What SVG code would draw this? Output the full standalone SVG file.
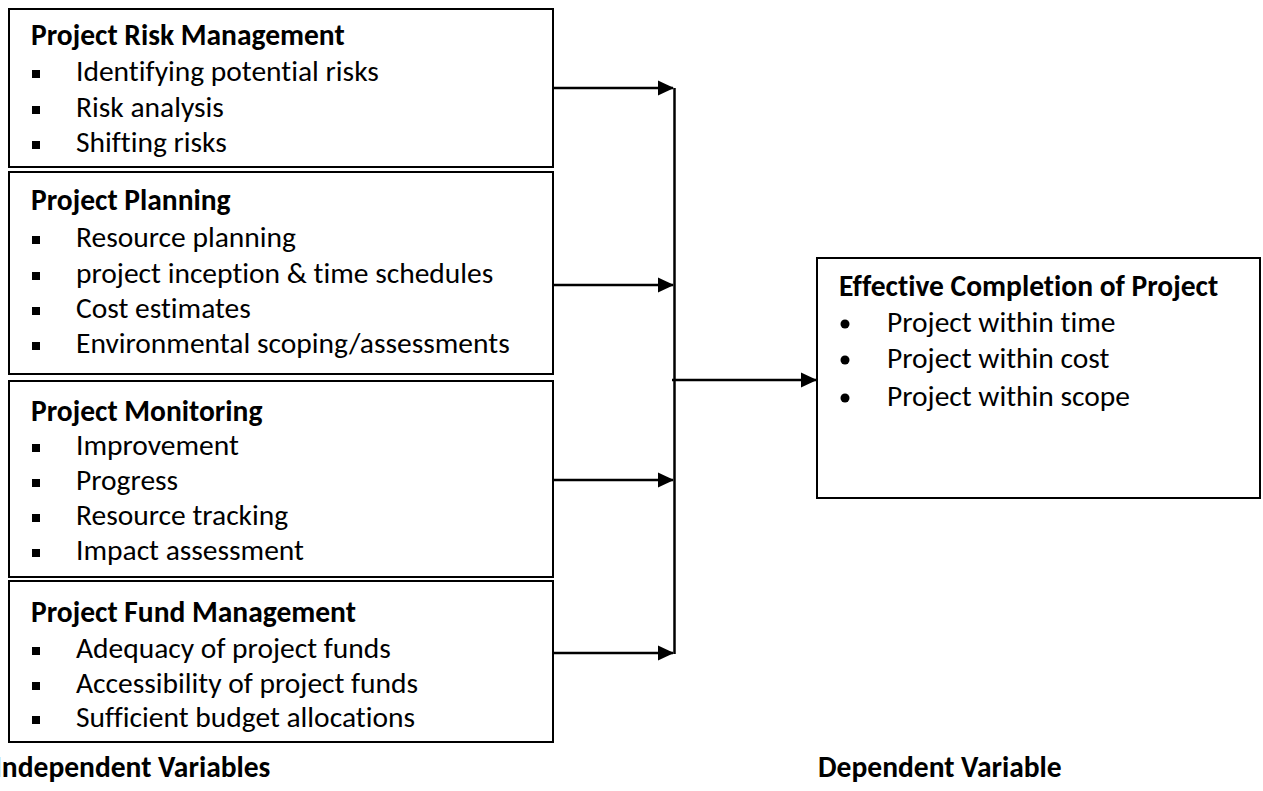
<svg xmlns="http://www.w3.org/2000/svg" width="1263" height="791" viewBox="0 0 1263 791">
<style>
text{font-family:Carlito,Lato,"Liberation Sans",sans-serif;font-size:29.5px;fill:#000;font-variant-ligatures:none;font-feature-settings:"liga" 0,"clig" 0}
.t{font-weight:bold}
.box{fill:#fff;stroke:#000;stroke-width:2}
.sq{fill:#000}
.ln{stroke:#000;stroke-width:2.5;fill:none}
</style>
<defs>
<marker id="ah" viewBox="0 0 16 16" refX="15" refY="8" markerWidth="16" markerHeight="16" markerUnits="userSpaceOnUse" orient="auto">
<path d="M0,0.5 L16,8 L0,15.5 Z" fill="#000"/>
</marker>
<clipPath id="c1"><rect x="0" y="0" width="560" height="157"/></clipPath>
</defs>
<rect width="1263" height="791" fill="#fff"/>

<g id="risk">
<rect class="box" x="9" y="9" width="544" height="158"/>
<g clip-path="url(#c1)">
<text class="t" x="31" y="45">Project Risk Management</text>
<rect class="sq" x="32" y="70" width="8" height="8"/><text x="76" y="81">Identifying potential risks</text>
<rect class="sq" x="32" y="106" width="8" height="8"/><text x="76" y="117">Risk analysis</text>
<rect class="sq" x="32" y="141" width="8" height="8"/><text x="76" y="152">Shifting risks</text>
</g>
</g>

<g id="planning">
<rect class="box" x="9" y="172" width="544" height="202"/>
<text class="t" x="31" y="210">Project Planning</text>
<rect class="sq" x="32" y="236" width="8" height="8"/><text x="76" y="247">Resource planning</text>
<rect class="sq" x="32" y="272" width="8" height="8"/><text x="76" y="283">project inception &amp; time schedules</text>
<rect class="sq" x="32" y="307" width="8" height="8"/><text x="76" y="318">Cost estimates</text>
<rect class="sq" x="32" y="342" width="8" height="8"/><text x="76" y="353">Environmental scoping/assessments</text>
</g>

<g id="monitoring">
<rect class="box" x="9" y="381" width="544" height="196"/>
<text class="t" x="31" y="421">Project Monitoring</text>
<rect class="sq" x="32" y="444" width="8" height="8"/><text x="76" y="455">Improvement</text>
<rect class="sq" x="32" y="479" width="8" height="8"/><text x="76" y="490">Progress</text>
<rect class="sq" x="32" y="514" width="8" height="8"/><text x="76" y="525">Resource tracking</text>
<rect class="sq" x="32" y="549" width="8" height="8"/><text x="76" y="560">Impact assessment</text>
</g>

<g id="fund">
<rect class="box" x="9" y="581" width="544" height="161"/>
<text class="t" x="31" y="622">Project Fund Management</text>
<rect class="sq" x="32" y="647" width="8" height="8"/><text x="76" y="658">Adequacy of project funds</text>
<rect class="sq" x="32" y="682" width="8" height="8"/><text x="76" y="693">Accessibility of project funds</text>
<rect class="sq" x="32" y="716" width="8" height="8"/><text x="76" y="727">Sufficient budget allocations</text>
</g>

<g id="outcome">
<rect class="box" x="817" y="258" width="443" height="240"/>
<text class="t" x="839" y="296">Effective Completion of Project</text>
<circle cx="845" cy="324" r="4.5"/><text x="887" y="332">Project within time</text>
<circle cx="845" cy="360" r="4.5"/><text x="887" y="368">Project within cost</text>
<circle cx="845" cy="398" r="4.5"/><text x="887" y="406">Project within scope</text>
</g>

<g id="labels">
<text class="t" x="-6" y="777">Independent Variables</text>
<text class="t" x="818" y="777">Dependent Variable</text>
</g>

<g id="connectors">
<line class="ln" x1="553" y1="88" x2="673" y2="88" marker-end="url(#ah)"/>
<line class="ln" x1="553" y1="285" x2="673" y2="285" marker-end="url(#ah)"/>
<line class="ln" x1="553" y1="480" x2="673" y2="480" marker-end="url(#ah)"/>
<line class="ln" x1="553" y1="653" x2="673" y2="653" marker-end="url(#ah)"/>
<line class="ln" x1="674.5" y1="88" x2="674.5" y2="654"/>
<line class="ln" x1="672" y1="380" x2="816" y2="380" marker-end="url(#ah)"/>
</g>
</svg>
